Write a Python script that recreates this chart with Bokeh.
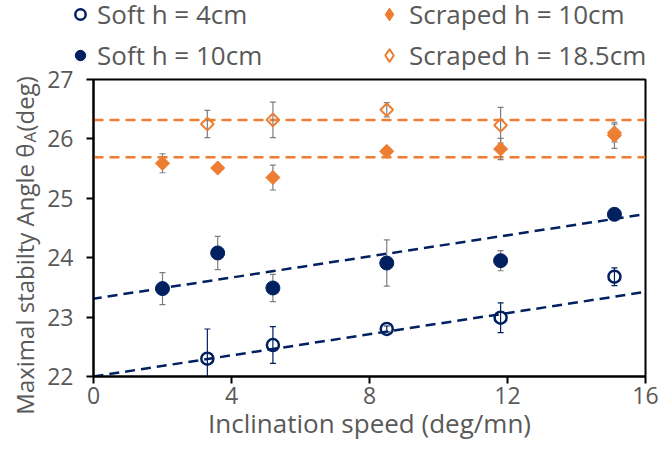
import math
import numpy as np
from bokeh.plotting import figure
from bokeh.layouts import column, row
from bokeh.models import Legend, LegendItem, Label, Slope, Span, FixedTicker
from bokeh.embed import file_html
from bokeh.resources import INLINE

# ---------------- data ----------------
soft4_speed = [3.3, 5.2, 8.5, 11.8, 15.1]
soft4_angle = [22.30, 22.53, 22.80, 22.99, 23.68]
soft4_err = [0.50, 0.31, 0.05, 0.25, 0.15]

soft10_speed = [2.0, 3.6, 5.2, 8.5, 11.8, 15.1]
soft10_angle = [23.48, 24.08, 23.49, 23.91, 23.95, 24.73]
soft10_err = [0.27, 0.28, 0.23, 0.39, 0.17, 0.0]

scr10_speed = [2.0, 3.6, 5.2, 8.5, 11.8, 15.1]
scr10_angle = [25.59, 25.51, 25.35, 25.79, 25.83, 26.06]
scr10_err = [0.16, 0.0, 0.21, 0.03, 0.18, 0.22]

scr185_speed = [3.3, 5.2, 8.5, 11.8, 15.1]
scr185_angle = [26.25, 26.32, 26.49, 26.23, 26.10]
scr185_err = [0.23, 0.30, 0.12, 0.30, 0.15]

# trend lines: (intercept, slope)
trend_soft4 = (22.0, 0.089)
trend_soft10 = (23.31, 0.089)
mean_scr10 = 25.69
mean_scr185 = 26.32

x_ticks = [0, 4, 8, 12, 16]
y_ticks = [22, 23, 24, 25, 26, 27]

labels = ["Soft h = 4cm", "Soft h = 10cm", "Scraped h = 10cm", "Scraped h = 18.5cm"]
x_title = "Inclination speed (deg/mn)"
y_title_parts = ["Maximal stabilty Angle θ", "A", " (deg)"]

NAVY = "#002060"
ORANGE = "#ED7D31"
GREY = "#7F7F7F"
TXT = "#595959"
FONT = "Open Sans"

STYLES = [
    dict(marker="circle", size=12, fill_color=None, line_color=NAVY, line_width=2.5),
    dict(marker="circle", size=14, fill_color=NAVY, line_color=NAVY, line_width=1),
    dict(marker="square", angle=math.pi / 4, size=10, fill_color=ORANGE, line_color=ORANGE, line_width=1),
    dict(marker="square", angle=math.pi / 4, size=9, fill_color=None, line_color=ORANGE, line_width=2),
]
# legend swatches ignore marker rotation, so use diamonds there
LEG_STYLES = [
    dict(marker="circle", fill_color=None, line_color=NAVY, line_width=2.5),
    dict(marker="circle", fill_color=NAVY, line_color=NAVY, line_width=1),
    dict(marker="diamond", fill_color=ORANGE, line_color=ORANGE, line_width=1),
    dict(marker="diamond", fill_color=None, line_color=ORANGE, line_width=2),
]
SERIES = [(soft4_speed, soft4_angle), (soft10_speed, soft10_angle),
          (scr10_speed, scr10_angle), (scr185_speed, scr185_angle)]

TITLE_W = 44


def bare(fig):
    fig.frame_align = False
    fig.xgrid.visible = False
    fig.ygrid.visible = False
    fig.outline_line_color = None
    fig.background_fill_color = "white"
    fig.border_fill_color = "white"


# ---------------- main plot ----------------
p = figure(width=659 - TITLE_W, height=381, x_range=(0, 16), y_range=(22, 27),
           output_backend="svg", toolbar_location=None,
           min_border_left=92 - TITLE_W, min_border_right=14, min_border_top=9,
           min_border_bottom=75)
p.frame_align = False
p.xgrid.visible = False
p.ygrid.visible = False
p.background_fill_color = "white"
p.border_fill_color = "white"
p.outline_line_color = "black"
p.outline_line_width = 2

for ax in (p.xaxis[0], p.yaxis[0]):
    ax.axis_line_color = "black"
    ax.axis_line_width = 2
    ax.major_tick_line_color = "black"
    ax.major_tick_line_width = 2
    ax.major_tick_out = 7
    ax.major_tick_in = 0
    ax.minor_tick_line_color = None
    ax.major_label_text_font = FONT
    ax.major_label_text_font_size = "23px"
    ax.major_label_text_color = TXT
p.xaxis[0].ticker = FixedTicker(ticks=x_ticks)
p.yaxis[0].ticker = FixedTicker(ticks=y_ticks)
p.xaxis[0].major_label_standoff = 3
p.yaxis[0].major_label_standoff = 13

p.xaxis[0].axis_label = x_title
p.xaxis[0].axis_label_text_font = FONT
p.xaxis[0].axis_label_text_font_style = "normal"
p.xaxis[0].axis_label_text_color = TXT
p.xaxis[0].axis_label_text_font_size = "26px"
p.xaxis[0].axis_label_standoff = -2

# trend lines
p.add_layout(Slope(gradient=trend_soft4[1], y_intercept=trend_soft4[0], line_color=NAVY,
                   line_width=2.5, line_dash="10 6", level="underlay"))
p.add_layout(Slope(gradient=trend_soft10[1], y_intercept=trend_soft10[0], line_color=NAVY,
                   line_width=2.5, line_dash="10 6", level="underlay"))
p.add_layout(Span(location=mean_scr10, dimension="width", line_color=ORANGE,
                  line_width=2.5, line_dash="10 6", level="underlay"))
p.add_layout(Span(location=mean_scr185, dimension="width", line_color=ORANGE,
                  line_width=2.5, line_dash="10 6", level="underlay"))


def errorbars(xs, ys, es, color, width):
    xs = np.array(xs); ys = np.array(ys); es = np.array(es)
    p.segment(xs, ys - es, xs, ys + es, line_color=color, line_width=width)
    p.scatter(np.concatenate([xs, xs]), np.concatenate([ys - es, ys + es]), marker="dash",
              size=6, line_color=color, line_width=width)


errorbars(soft4_speed, soft4_angle, soft4_err, NAVY, 1.2)
errorbars(soft10_speed, soft10_angle, soft10_err, GREY, 1.2)
errorbars(scr10_speed, scr10_angle, scr10_err, GREY, 1.2)
errorbars(scr185_speed, scr185_angle, scr185_err, GREY, 1.2)

for (xs, ys), st in zip(SERIES, STYLES):
    p.scatter(xs, ys, **st)

# ---------------- legend strip (above the plot) ----------------
lf = figure(width=659 - TITLE_W, height=70, x_range=(0, 16), y_range=(0, 1),
            output_backend="svg", toolbar_location=None,
            min_border_left=0, min_border_right=0, min_border_top=0, min_border_bottom=0,
            x_axis_location=None, y_axis_location=None)
bare(lf)

# same series, drawn outside this strip's range: only their legend glyphs show
leg_r = [lf.scatter(xs, ys, **st) for (xs, ys), st in zip(SERIES, LEG_STYLES)]


def make_legend(items, loc, glyph):
    lg = Legend(items=items, location=loc, orientation="vertical",
                background_fill_alpha=0, border_line_alpha=0, padding=0, margin=0,
                spacing=5, glyph_width=glyph, glyph_height=glyph, label_standoff=4,
                label_text_font=FONT, label_text_font_size="26px", label_text_color=TXT)
    lf.add_layout(lg, "center")


make_legend([LegendItem(label=labels[0], renderers=[leg_r[0]]),
             LegendItem(label=labels[1], renderers=[leg_r[1]])], (67 - TITLE_W, -3), 26)
make_legend([LegendItem(label=labels[2], renderers=[leg_r[2]]),
             LegendItem(label=labels[3], renderers=[leg_r[3]])], (373 - TITLE_W, -3), 32)

# ---------------- y-axis title strip (left) ----------------
tf = figure(width=TITLE_W, height=451, x_range=(0, 1), y_range=(0, 1),
            output_backend="svg", toolbar_location=None,
            min_border_left=0, min_border_right=0, min_border_top=0, min_border_bottom=0,
            x_axis_location=None, y_axis_location=None)
bare(tf)
common = dict(x_units="screen", y_units="screen", angle=math.pi / 2,
              text_baseline="alphabetic", text_font=FONT, text_color=TXT)
tf.add_layout(Label(x=24, y=308, text=y_title_parts[0], text_align="right",
                    text_font_size="24px", **common))
tf.add_layout(Label(x=29, y=309, text=y_title_parts[1], text_align="left",
                    text_font_size="17px", **common))
tf.add_layout(Label(x=24, y=320, text=y_title_parts[2], text_align="left",
                    text_font_size="24px", **common))

layout = row(tf, column(lf, p, spacing=0), spacing=0)
open("out.html", "w").write(file_html(layout, INLINE))
